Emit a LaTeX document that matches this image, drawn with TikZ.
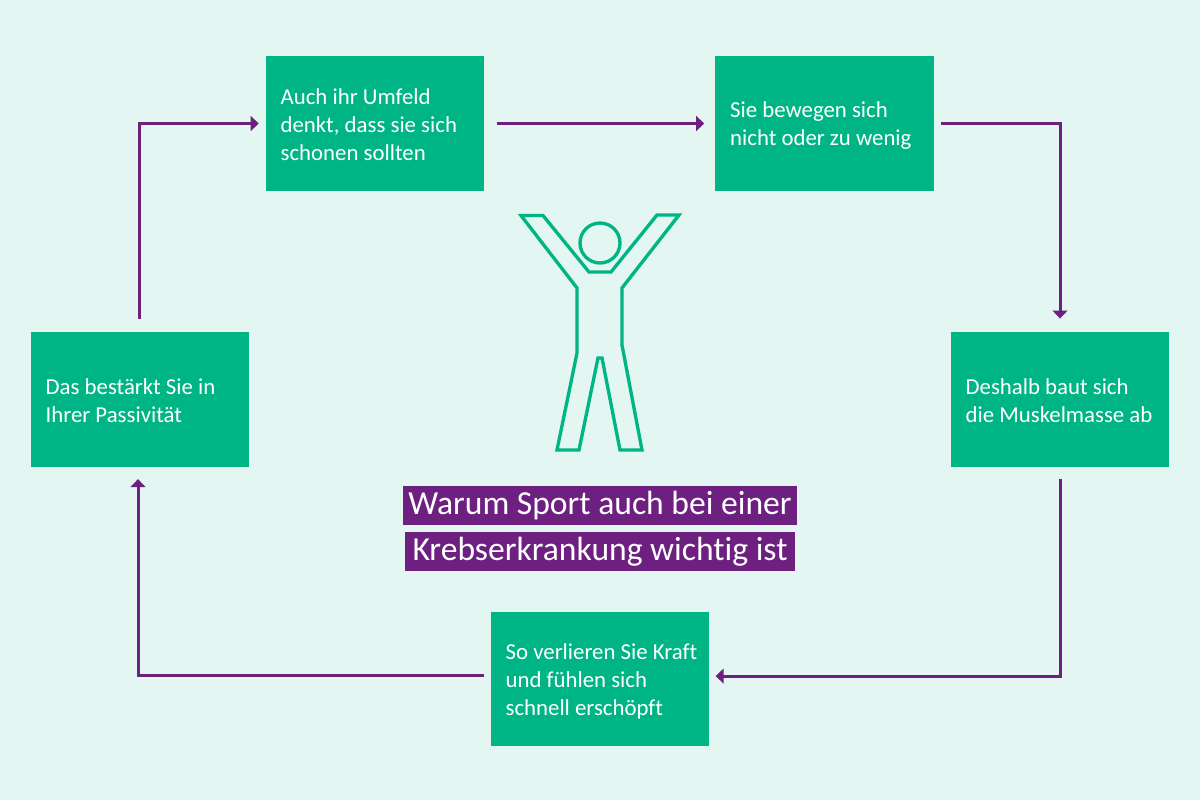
\documentclass[tikz,border=0pt]{standalone}
\usepackage{fontspec}
\setmainfont[Ligatures=NoCommon]{Carlito}
\usetikzlibrary{arrows.meta}
\definecolor{grund}{HTML}{E3F6F1}
\definecolor{gruen}{HTML}{00B585}
\definecolor{lila}{HTML}{6E2080}
\tikzset{
	kasten/.style={fill=gruen,text=white,minimum height=101pt,inner sep=0pt,
		text width=164pt,align=flush left,font=\fontsize{17.1}{21}\selectfont,
		execute at begin node={\leftskip=11.25pt\rule{0pt}{#1}}},
	kasten/.default=13pt,
	titel/.style={fill=lila,text=white,inner sep=0pt,minimum height=29.5pt,
		font=\fontsize{25.2}{30}\selectfont},
	pfeil/.style={draw=lila,line width=2.25pt,-{Triangle[length=6pt,width=11pt]}}
}
\begin{document}
\begin{tikzpicture}[x=.75pt,y=-.75pt]
	\fill[grund] (0,0) rectangle (1200,800);
	\useasboundingbox (0,0) rectangle (1200,800);
	\node[kasten] (umfeld) at (375,123.5) {Auch ihr Umfeld\\denkt, dass sie sich\\schonen sollten};
	\node[kasten=15pt] (bewegen) at (824.5,123.5) {Sie bewegen sich\\nicht oder zu wenig};
	\node[kasten] (muskel) at (1060,399.5) {Deshalb baut sich\\die Muskelmasse ab};
	\node[kasten=15pt] (kraft) at (600,679) {So verlieren Sie Kraft\\und fühlen sich\\schnell erschöpft};
	\node[kasten] (passiv) at (140,399.5) {Das bestärkt Sie in\\Ihrer Passivität};
	% Pfeile im Kreis
	\draw[pfeil,shorten <=9pt,shorten >=8pt] (umfeld.east)--(bewegen.west);
	\draw[pfeil,shorten <=5pt,shorten >=10pt] (bewegen.east)-|(muskel.north);
	\draw[pfeil,shorten <=9pt,shorten >=4.5pt] (muskel.south)|-([yshift=2.2pt]kraft.east);
	\draw[pfeil,shorten <=5pt,shorten >=9pt] ([yshift=2.6pt]kraft.west)-|([xshift=-1.5pt]passiv.south);
	\draw[pfeil,shorten <=10pt,shorten >=5pt] ([xshift=-.75pt]passiv.north)|-(umfeld.west);
	% Figur
	\draw[gruen,line width=2.5pt]
	(521,215.5)--(543,215.5)--(589,272)--(611,272)--(657,215)--(679,215)--(622,288)--(622,345)
	--(642,450)--(620,450)--(602,358)--(598,358)--(579,450)--(557,450)--(577,353)--(577,288)--cycle;
	\draw[gruen,line width=2.5pt] (600,243) circle (20);
	\node[titel,minimum width=295.5pt] (titel1) at (600,505.5) {Warum Sport auch bei einer};
	\node[titel,minimum width=292.5pt] (titel2) at (600,551.5) {Krebserkrankung wichtig ist};
\end{tikzpicture}
\end{document}
